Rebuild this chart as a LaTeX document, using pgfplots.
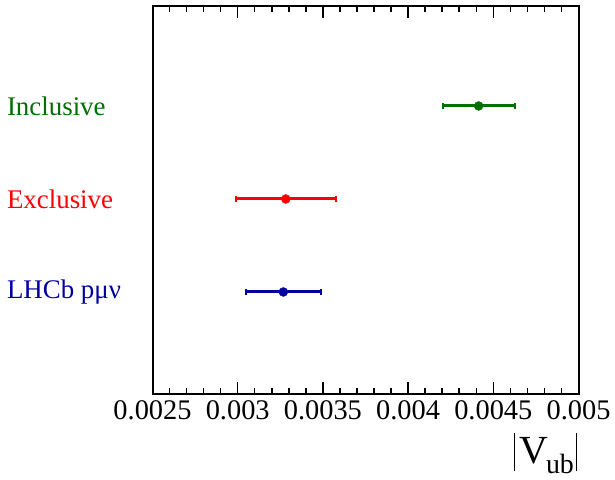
\documentclass[border=0pt]{standalone}
\usepackage{pgfplots}
\pgfplotsset{compat=1.18}
\usepackage{fontspec}
\setmainfont{Liberation Serif}
\definecolor{incl}{RGB}{0,112,0}
\definecolor{excl}{RGB}{255,0,0}
\definecolor{lhcb}{RGB}{0,0,160}
\pgfplotsset{
  vubframe/.style={
    at={(152.5bp,86bp)}, anchor=south west,
    scale only axis,
    width=426bp, height=388bp,
    xmin=0.0025, xmax=0.005,
    ymin=-0.097, ymax=4.075,
    clip=false,
  }
}
\begin{document}
\begin{tikzpicture}
\useasboundingbox (0,0) rectangle (615bp,480bp);
% frame, ticks and tick labels
\begin{axis}[
    vubframe,
    ytick=\empty,
    xtick={0.0025,0.003,0.0035,0.004,0.0045,0.005},
    minor x tick num=4,
    xticklabels={0.0025,0.003,0.0035,0.004,0.0045,0.005},
    scaled x ticks=false,
    xtick pos=both,
    tick align=inside,
    major tick length=0.42cm,
    minor tick length=0.22cm,
    every tick/.append style={black, line width=1.5bp},
    axis line style={line width=2bp},
    ticklabel style={font=\fontsize{28.5}{30}\selectfont},
    xticklabel style={yshift=-3bp},
]
\end{axis}
% measurements
\begin{axis}[
    vubframe,
    hide axis,
]
\addplot[incl, only marks, mark=*, mark size=4.5bp,
    error bars/.cd, x dir=both, x explicit,
    error bar style={line width=3bp, incl},
    error mark options={rotate=90, mark size=3bp, line width=2bp, incl}]
    coordinates {(0.004414,3) +- (0.000211,0)};
\addplot[excl, only marks, mark=*, mark size=4.5bp,
    error bars/.cd, x dir=both, x explicit,
    error bar style={line width=3bp, excl},
    error mark options={rotate=90, mark size=3bp, line width=2bp, excl}]
    coordinates {(0.003282,2) +- (0.000294,0)};
\addplot[lhcb, only marks, mark=*, mark size=4.5bp,
    error bars/.cd, x dir=both, x explicit,
    error bar style={line width=3bp, lhcb},
    error mark options={rotate=90, mark size=3bp, line width=2bp, lhcb}]
    coordinates {(0.003268,1) +- (0.000222,0)};
\node[anchor=west, text=incl, font=\fontsize{27}{30}\selectfont, xshift=-149bp] at (axis cs:0.0025,3) {Inclusive};
\node[anchor=west, text=excl, font=\fontsize{27}{30}\selectfont, xshift=-149bp] at (axis cs:0.0025,2) {Exclusive};
\node[anchor=west, text=lhcb, font=\fontsize{27}{30}\selectfont, xshift=-149bp] at (axis cs:0.0025,1) {LHCb pμν};
\node[anchor=base east, font=\fontsize{40}{44}\selectfont, inner sep=0pt] at ([yshift=-69bp, xshift=-1bp]rel axis cs:1,0)
    {\rule[-8bp]{1.4bp}{38bp}\kern4bp V\kern-2bp\raisebox{-10bp}{\fontsize{28}{30}\selectfont ub}\kern2bp\rule[-8bp]{1.4bp}{38bp}};
\end{axis}
\end{tikzpicture}
\end{document}
